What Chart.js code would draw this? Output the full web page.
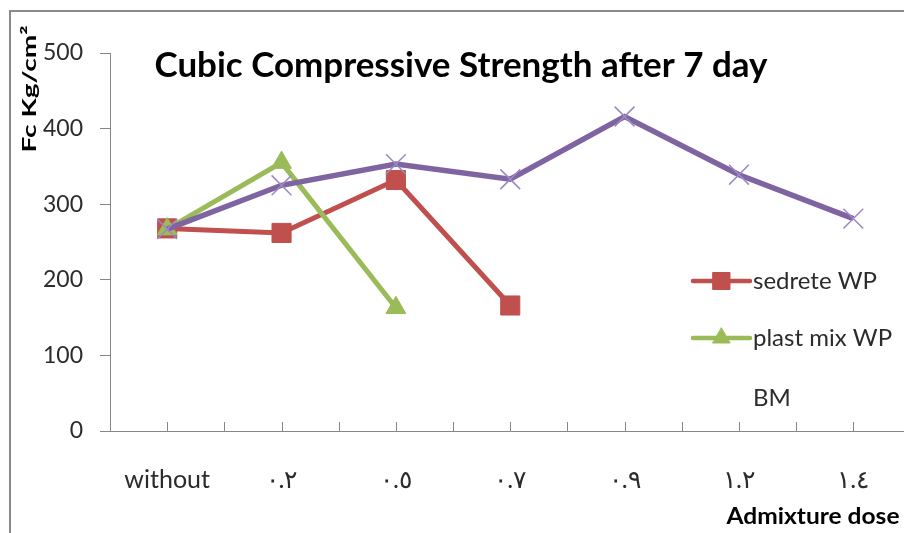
<!DOCTYPE html>
<html>
<head>
<meta charset="utf-8">
<title>Cubic Compressive Strength after 7 day</title>
<script src="https://cdn.jsdelivr.net/npm/chart.js@4.4.1/dist/chart.umd.min.js"></script>
<style>
  html, body { margin: 0; padding: 0; background: #fff; overflow: hidden; }
  #wrap { position: relative; width: 904px; height: 533px; overflow: hidden; background: #fff; }
  #frame { position: absolute; left: 9px; top: 10px; width: 1000px; height: 700px;
           border: 2px solid #8a8a8a; box-sizing: border-box; pointer-events: none; }
  #c { position: absolute; left: 0; top: 0; }
</style>
</head>
<body>
<div id="wrap">
  <div id="frame"></div>
  <canvas id="c" width="926" height="533" style="width:926px;height:533px"></canvas>
</div>
<script>
// Admixture doses (category axis) and measured strengths, Fc in Kg/cm2
const doses = ['without', '٠.٢', '٠.٥', '٠.٧', '٠.٩', '١.٢', '١.٤'];
const sedreteWP = [268, 262, 332, 166, null, null, null];
const plastMixWP = [267, 355, 163, null, null, null, null];
const bmValues = [267, 325, 353, 333, 416, 339, 281];
const seriesNames = ['sedrete WP', 'plast mix WP', 'BM'];
const yMin = 0, yMax = 500, yStep = 100;

const chartTitle = 'Cubic Compressive Strength after 7 day';
const yTitle = 'Fc Kg/cm²';
const xTitle = 'Admixture dose';

const AXIS = '#868686';
const RED = '#C0504D', GREEN = '#9BBB59', PURPLE = '#8064A2', PURPLE_MARK = '#9C89C4';
const TEXT = '#2b2b2b';

// Draw a string squeezed/stretched to a given length along its own direction
function drawFitted(ctx, text, font, cx, baseY, length, angle) {
  ctx.save();
  ctx.translate(cx, baseY);
  ctx.rotate(angle);
  ctx.font = font;
  const w = ctx.measureText(text).width;
  ctx.scale(length / w, 1);
  ctx.textAlign = 'center';
  ctx.textBaseline = 'alphabetic';
  ctx.fillText(text, 0, 0);
  ctx.restore();
}

// Minor tick marks on the category axis (category centres and boundaries), pointing inwards
const halfTicks = {
  id: 'halfTicks',
  beforeDatasetsDraw(chart) {
    const { ctx, scales: { x, y } } = chart;
    const n = chart.data.labels.length;
    ctx.save();
    ctx.strokeStyle = AXIS;
    ctx.lineWidth = 1;
    for (let k = 1; k <= 2 * n; k++) {
      const px = Math.round(x.getPixelForValue(k / 2 - 0.5)) + 0.5;
      ctx.beginPath();
      ctx.moveTo(px, y.bottom);
      ctx.lineTo(px, y.bottom - 9);
      ctx.stroke();
    }
    ctx.restore();
  }
};

// Titles placed inside the frame
const titles = {
  id: 'titles',
  afterDraw(chart) {
    const { ctx, chartArea: a } = chart;
    ctx.save();
    ctx.fillStyle = '#000';
    drawFitted(ctx, chartTitle, 'bold 35px Lato', 461, a.top + 24, 613, 0);
    drawFitted(ctx, yTitle, 'bold 19px Lato', a.left - 74, 89, 127, -Math.PI / 2);
    drawFitted(ctx, xTitle, 'bold 23px Lato', 813, 524, 173, 0);
    ctx.restore();
  }
};

// Legend: line with marker, label to the right
const sideLegend = {
  id: 'sideLegend',
  afterDraw(chart) {
    const { ctx } = chart;
    const rows = [281, 338, 398];
    const x0 = 693, x1 = 750, tx = 753;
    ctx.save();
    chart.data.datasets.forEach((ds, i) => {
      const yy = rows[i];
      if (ds.legendSymbol !== false) {
        ctx.strokeStyle = ds.borderColor;
        ctx.lineWidth = 4.5;
        ctx.lineCap = 'round';
        ctx.beginPath();
        ctx.moveTo(x0, yy);
        ctx.lineTo(x1, yy);
        ctx.stroke();
        ctx.fillStyle = ds.pointBackgroundColor;
        ctx.strokeStyle = ds.pointBorderColor;
        ctx.lineWidth = 1;
        Chart.helpers.drawPoint(ctx, {
          pointStyle: ds.pointStyle,
          radius: ds.legendRadius,
          rotation: 0,
          borderWidth: 1
        }, (x0 + x1) / 2, yy);
      }
      ctx.fillStyle = TEXT;
      ctx.font = '24px Lato';
      ctx.textAlign = 'left';
      ctx.textBaseline = 'middle';
      ctx.fillText(ds.label, tx, yy);
    });
    ctx.restore();
  }
};

new Chart(document.getElementById('c'), {
  type: 'line',
  data: {
    labels: doses,
    datasets: [
      {
        label: seriesNames[0],
        data: sedreteWP,
        borderColor: RED,
        borderWidth: 5,
        pointStyle: 'rect',
        pointRadius: 13.5,
        pointBackgroundColor: RED,
        pointBorderColor: RED,
        pointBorderWidth: 1,
        legendRadius: 12,
        order: 3
      },
      {
        label: seriesNames[1],
        data: plastMixWP,
        borderColor: GREEN,
        borderWidth: 5,
        pointStyle: 'triangle',
        pointRadius: 11.5,
        pointBackgroundColor: GREEN,
        pointBorderColor: GREEN,
        pointBorderWidth: 1,
        legendRadius: 10,
        order: 2
      },
      {
        label: seriesNames[2],
        data: bmValues,
        borderColor: PURPLE,
        borderWidth: 5.5,
        pointStyle: 'crossRot',
        pointRadius: 14,
        pointBackgroundColor: PURPLE_MARK,
        pointBorderColor: PURPLE_MARK,
        pointBorderWidth: 1.5,
        legendSymbol: false,
        order: 1
      }
    ]
  },
  options: {
    responsive: false,
    animation: false,
    spanGaps: false,
    layout: { padding: { top: 53, right: 2, left: 0, bottom: 0 } },
    plugins: {
      legend: { display: false },
      title: { display: false },
      tooltip: { enabled: false }
    },
    scales: {
      x: {
        type: 'category',
        offset: true,
        grid: { display: false, drawTicks: false },
        border: { display: true, color: AXIS, width: 1 },
        ticks: {
          color: TEXT,
          font: { family: 'Lato', size: 25 },
          padding: 34,
          maxRotation: 0,
          autoSkip: false
        },
        afterFit(scale) { scale.height = 102; }
      },
      y: {
        min: yMin,
        max: yMax,
        ticks: {
          stepSize: yStep,
          color: TEXT,
          font: { family: 'Lato', size: 23 },
          padding: 17
        },
        grid: { drawOnChartArea: false, drawTicks: true, tickLength: 10, color: AXIS },
        border: { display: true, color: AXIS, width: 1 },
        afterFit(scale) { scale.width = 110; }
      }
    }
  },
  plugins: [halfTicks, titles, sideLegend]
});
</script>
</body>
</html>
